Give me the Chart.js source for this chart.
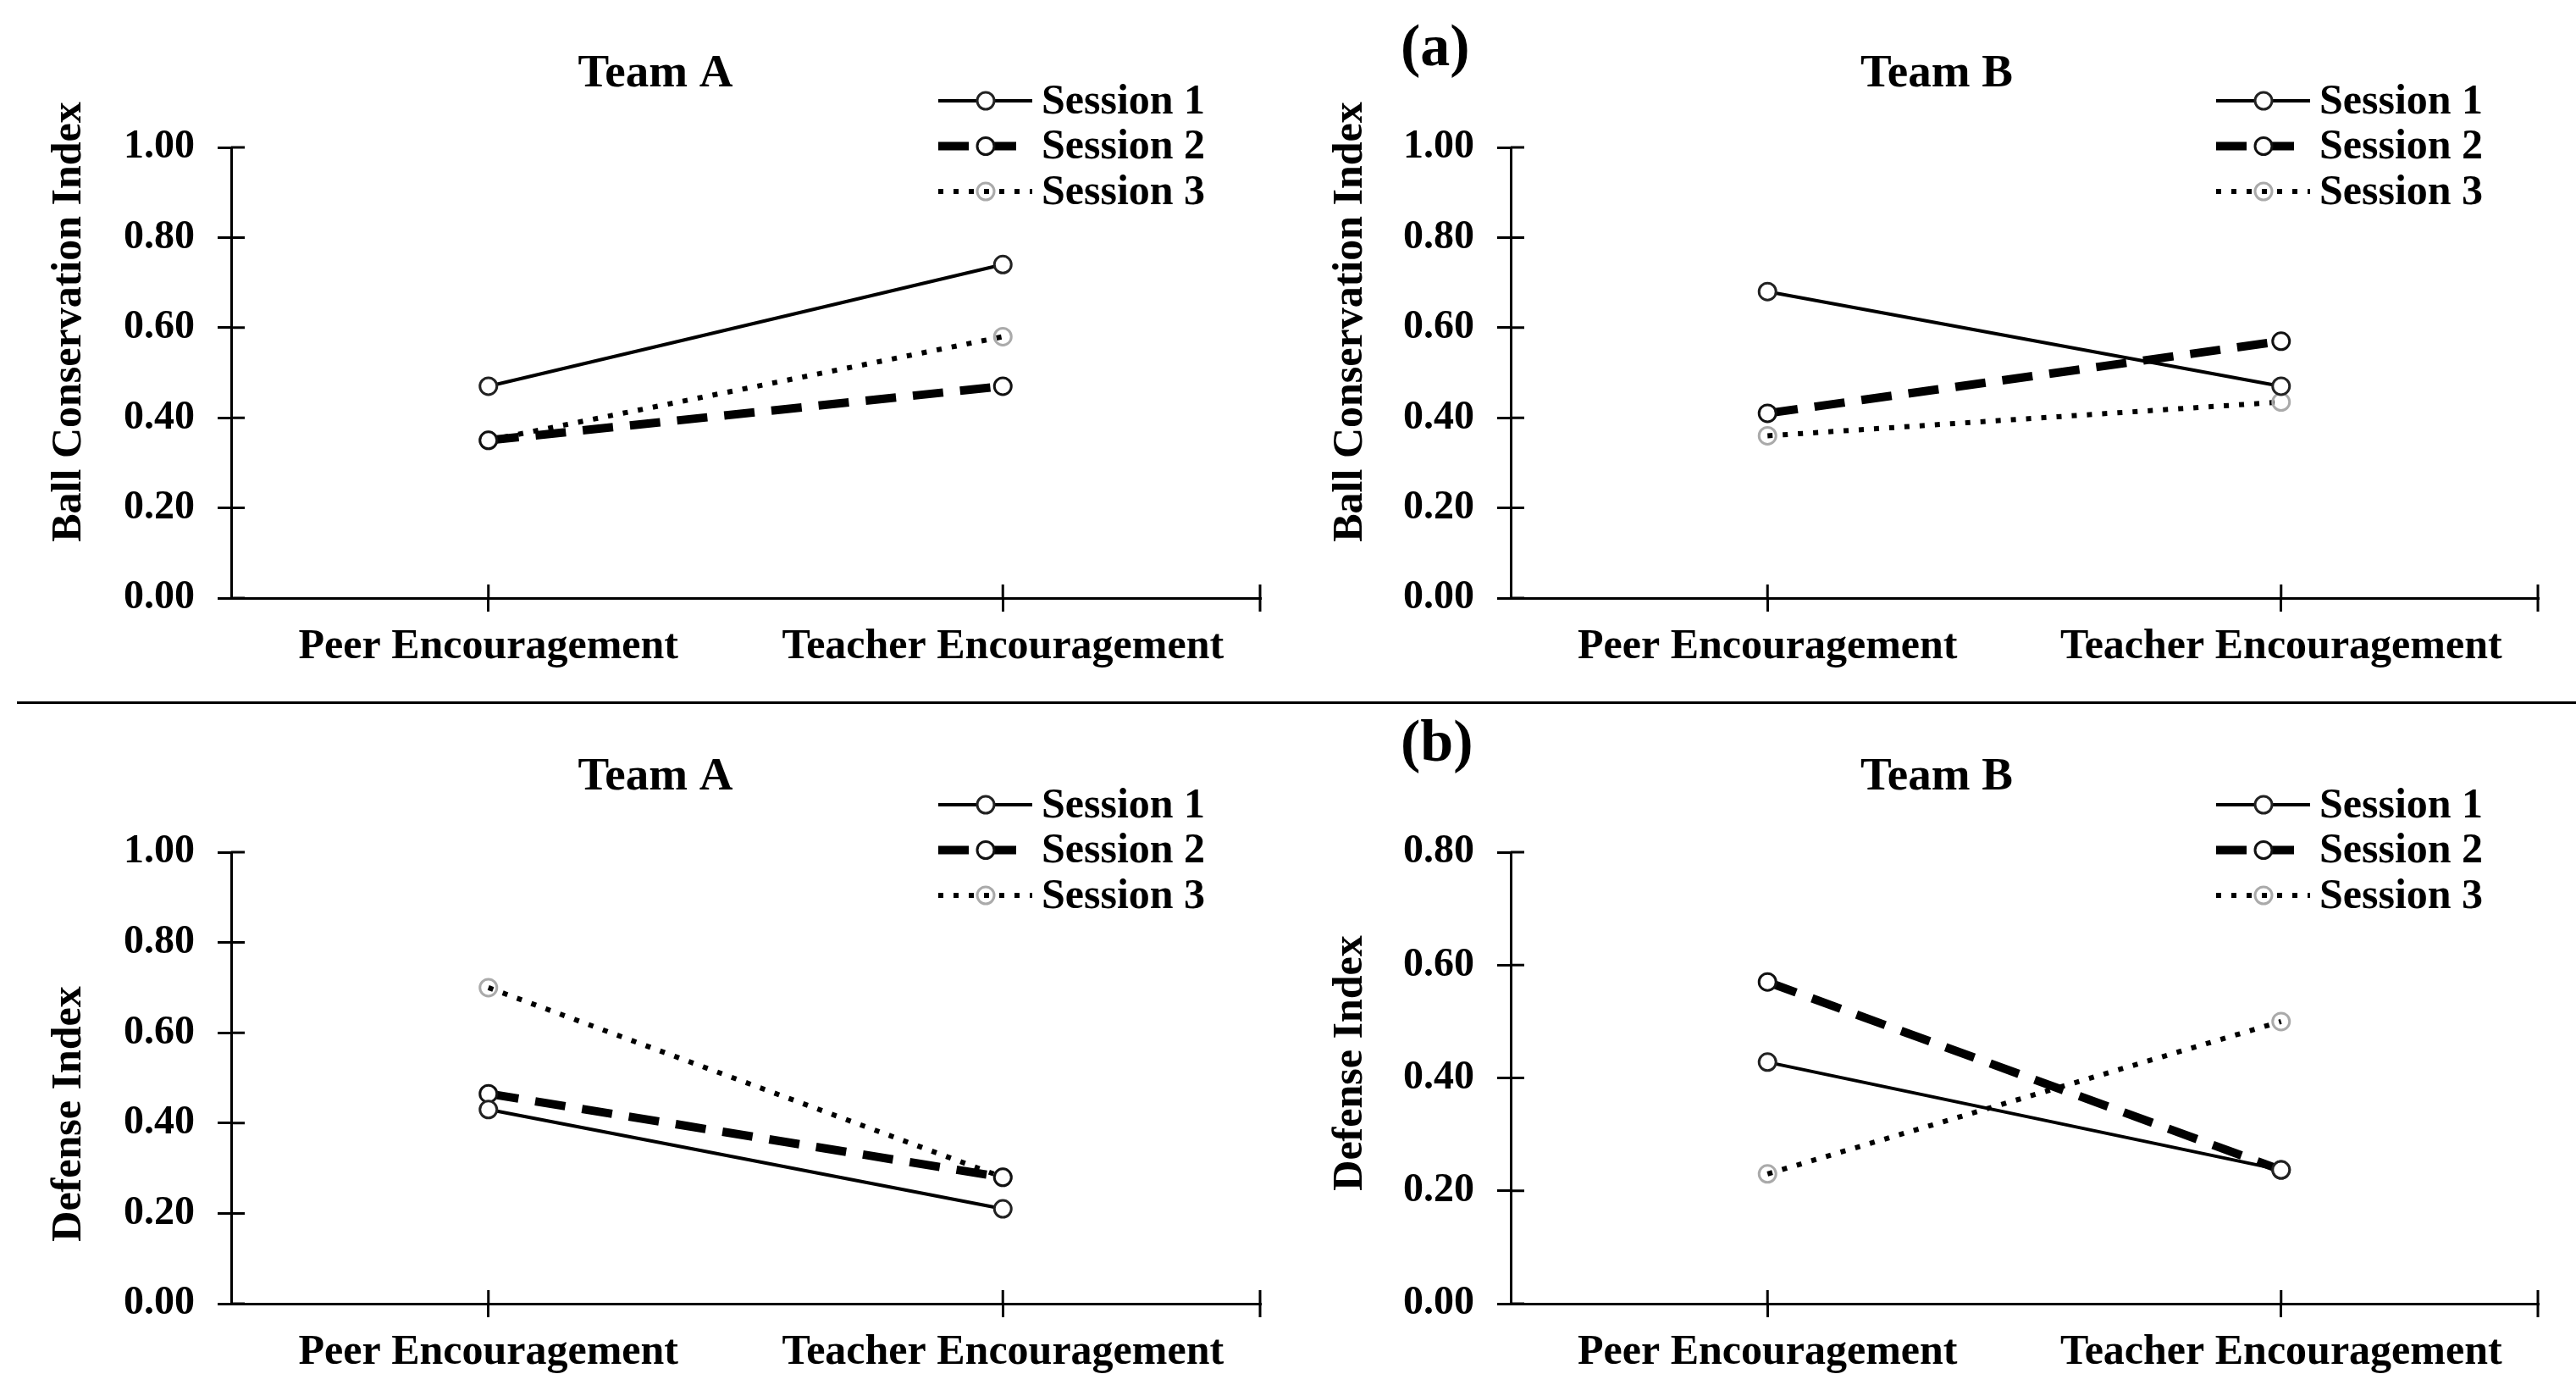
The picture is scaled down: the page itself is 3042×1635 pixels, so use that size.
<!DOCTYPE html>
<html>
<head>
<meta charset="utf-8">
<script src="https://cdn.jsdelivr.net/npm/chart.js@4.4.0/dist/chart.umd.min.js"></script>
<style>
  html, body { margin: 0; padding: 0; background: #fff; }
  body { width: 3042px; height: 1635px; position: relative; overflow: hidden; font-family: "Liberation Serif", "Times New Roman", serif; }
  canvas { position: absolute; }
  .tag { position: absolute; font-weight: bold; font-size: 70px; line-height: 1; color: #000; }
  #sep { position: absolute; left: 20px; top: 828px; width: 3022px; height: 3px; background: #000; }
</style>
</head>
<body>
<canvas id="chart1" width="1521" height="817" style="left:0;top:0"></canvas>
<canvas id="chart2" width="1521" height="817" style="left:1521px;top:0"></canvas>
<canvas id="chart3" width="1521" height="818" style="left:0;top:817px"></canvas>
<canvas id="chart4" width="1521" height="818" style="left:1521px;top:817px"></canvas>
<div id="sep"></div>
<div class="tag" style="left:1654px;top:19px">(a)</div>
<div class="tag" style="left:1654px;top:840px">(b)</div>
<script>
const categories = ['Peer Encouragement', 'Teacher Encouragement'];
const sessionNames = ['Session 1', 'Session 2', 'Session 3'];

// ball conservation index
const ballA1 = [0.47, 0.74];
const ballA2 = [0.35, 0.47];
const ballA3 = [0.35, 0.58];
const ballB1 = [0.68, 0.47];
const ballB2 = [0.41, 0.57];
const ballB3 = [0.36, 0.435];

// defense index
const defA1 = [0.43, 0.21];
const defA2 = [0.465, 0.28];
const defA3 = [0.70, 0.28];
const defB1 = [0.428, 0.237];
const defB2 = [0.57, 0.237];
const defB3 = [0.23, 0.50];

const ticksFull = [0, 0.2, 0.4, 0.6, 0.8, 1.0];
const ticksShort = [0, 0.2, 0.4, 0.6, 0.8];

const FONT = '"Liberation Serif", "Times New Roman", serif';

const sessionStyles = [
  { width: 4, dash: [], pointBorder: '#222', pointFill: '#fff' },
  { width: 10, dash: [36, 20], pointBorder: '#111', pointFill: '#fff' },
  { width: 6, dash: [6, 12], pointBorder: '#aaa', pointFill: 'rgba(255,255,255,0)' }
];

// crossing tick marks, title, rotated y title and line legend
const decor = {
  id: 'decor',
  afterDraw(chart, args, opts) {
    const ctx = chart.ctx;
    const area = chart.chartArea;
    const xs = chart.scales.x, ys = chart.scales.y;
    ctx.save();
    ctx.strokeStyle = '#000';
    ctx.lineWidth = 3;
    ctx.beginPath();
    ys.ticks.forEach(t => {
      const p = ys.getPixelForValue(t.value);
      ctx.moveTo(area.left, p);
      ctx.lineTo(area.left + 16, p);
    });
    xs.ticks.forEach((t, i) => {
      const p = xs.getPixelForTick(i);
      ctx.moveTo(p, area.bottom - 16);
      ctx.lineTo(p, area.bottom);
    });
    ctx.moveTo(area.right, area.bottom - 16);
    ctx.lineTo(area.right, area.bottom + 16);
    ctx.stroke();

    ctx.fillStyle = '#000';
    ctx.textAlign = 'center';
    ctx.textBaseline = 'middle';
    ctx.font = 'bold 55px ' + FONT;
    ctx.fillText(opts.title, opts.titleX, opts.titleY);

    ctx.save();
    ctx.translate(opts.yTitleX, opts.yTitleY);
    ctx.rotate(-Math.PI / 2);
    ctx.font = 'bold 50px ' + FONT;
    ctx.fillText(opts.yTitle, 0, 0);
    ctx.restore();

    const x0 = area.right - 380;
    chart.data.datasets.forEach((ds, i) => {
      const y = opts.legendTop + i * 53.5;
      ctx.strokeStyle = ds.borderColor;
      ctx.lineWidth = ds.borderWidth;
      ctx.setLineDash(ds.borderDash || []);
      ctx.beginPath();
      ctx.moveTo(x0, y);
      ctx.lineTo(x0 + 111, y);
      ctx.stroke();
      ctx.setLineDash([]);
      ctx.beginPath();
      ctx.arc(x0 + 56, y, ds.pointRadius, 0, Math.PI * 2);
      ctx.fillStyle = ds.pointBackgroundColor;
      ctx.fill();
      ctx.lineWidth = ds.pointBorderWidth;
      ctx.strokeStyle = ds.pointBorderColor;
      ctx.stroke();
      ctx.fillStyle = '#000';
      ctx.textAlign = 'left';
      ctx.font = 'bold 50px ' + FONT;
      ctx.fillText(ds.label, x0 + 122, y + 2);
    });
    ctx.restore();
  }
};

const panels = [
  { id: 'chart1', title: 'Team A', yTitle: 'Ball Conservation Index', series: [ballA1, ballA2, ballA3], ticks: ticksFull,
    h: 817, area: { left: 273, right: 1488, top: 174, bottom: 706 }, titleX: 774, titleY: 88, yTitleX: 82, yTitleY: 380, legendTop: 119 },
  { id: 'chart2', title: 'Team B', yTitle: 'Ball Conservation Index', series: [ballB1, ballB2, ballB3], ticks: ticksFull,
    h: 817, area: { left: 263, right: 1476, top: 174, bottom: 706 }, titleX: 766, titleY: 88, yTitleX: 74, yTitleY: 380, legendTop: 119 },
  { id: 'chart3', title: 'Team A', yTitle: 'Defense Index', series: [defA1, defA2, defA3], ticks: ticksFull,
    h: 818, area: { left: 273, right: 1488, top: 189, bottom: 722 }, titleX: 774, titleY: 101, yTitleX: 82, yTitleY: 498, legendTop: 133 },
  { id: 'chart4', title: 'Team B', yTitle: 'Defense Index', series: [defB1, defB2, defB3], ticks: ticksShort,
    h: 818, area: { left: 263, right: 1476, top: 189, bottom: 722 }, titleX: 766, titleY: 101, yTitleX: 74, yTitleY: 438, legendTop: 133 }
];

panels.forEach(p => {
  const ctx = document.getElementById(p.id).getContext('2d');
  new Chart(ctx, {
    type: 'line',
    data: {
      labels: categories,
      datasets: p.series.map((vals, i) => ({
        label: sessionNames[i],
        data: vals,
        borderColor: '#000',
        borderWidth: sessionStyles[i].width,
        borderDash: sessionStyles[i].dash,
        pointRadius: 10,
        pointBorderWidth: 3,
        pointBorderColor: sessionStyles[i].pointBorder,
        pointBackgroundColor: sessionStyles[i].pointFill,
        tension: 0,
        fill: false
      }))
    },
    options: {
      responsive: false,
      animation: false,
      layout: { padding: { left: 0, top: p.area.top, right: 1521 - p.area.right, bottom: 0 } },
      plugins: {
        legend: { display: false },
        tooltip: { enabled: false },
        decor: p
      },
      scales: {
        x: {
          type: 'category',
          offset: true,
          grid: { display: true, offset: false, drawOnChartArea: false, drawTicks: true, tickLength: 16, color: '#000', lineWidth: 3 },
          border: { display: true, color: '#000', width: 3 },
          ticks: { color: '#000', font: { family: FONT, size: 50, weight: 'bold' }, padding: 12, maxRotation: 0, autoSkip: false },
          afterFit: s => { s.height = p.h - p.area.bottom; }
        },
        y: {
          min: 0,
          max: p.ticks[p.ticks.length - 1],
          grid: { display: true, drawOnChartArea: false, drawTicks: true, tickLength: 16, color: '#000', lineWidth: 3 },
          border: { display: true, color: '#000', width: 3 },
          ticks: { color: '#000', font: { family: FONT, size: 48, weight: 'bold' }, padding: 27, callback: v => Number(v).toFixed(2) },
          afterBuildTicks: s => { s.ticks = p.ticks.map(v => ({ value: v })); },
          afterFit: s => { s.width = p.area.left; }
        }
      }
    },
    plugins: [decor]
  });
});
</script>
</body>
</html>
